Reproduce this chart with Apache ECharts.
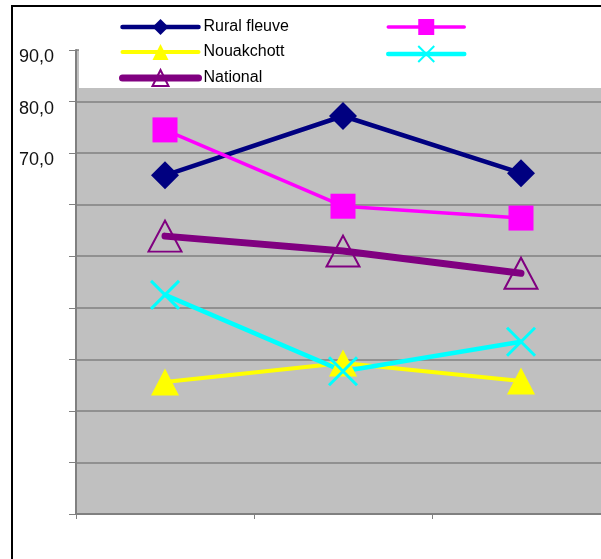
<!DOCTYPE html>
<html>
<head>
<meta charset="utf-8">
<script src="https://cdn.jsdelivr.net/npm/echarts@6/dist/echarts.min.js"></script>
<style>
html,body{margin:0;padding:0;background:#fff;}
#c{width:601px;height:559px;}
</style>
</head>
<body>
<div id="c"></div>
<script>
// Data
const categories = ['1', '2', '3'];
const ruralFleuve = [65.7, 77.2, 66.1];
const seriesMagenta = [74.5, 59.7, 57.4];
const nouakchott = [25.6, 29.3, 25.8];
const seriesCyan = [42.5, 27.7, 33.4];
const national = [53.9, 51.0, 46.7];

const chart = echarts.init(document.getElementById('c'), null, {renderer: 'canvas'});
const FONT = "'Liberation Sans', Arial, sans-serif";
const crossPath = 'path://M0,0L10,10M10,0L0,10';

const legendCommon = {
  orient: 'vertical', padding: 0,
  itemWidth: 76, itemHeight: 20, itemGap: 9,
  lineStyle: {width: 'inherit', cap: 'round'},
  textStyle: {fontFamily: FONT, fontSize: 16, color: '#000'},
  z: 10
};

chart.setOption({
  animation: false,
  backgroundColor: '#ffffff',
  grid: {
    left: 76, width: 534, top: 50, bottom: 45,
    outerBoundsMode: 'none',
    show: true, backgroundColor: '#c0c0c0', borderWidth: 0
  },
  legend: [
    Object.assign({}, legendCommon, {
      data: ['Rural fleuve', 'Nouakchott', 'National'],
      left: 119, top: 19
    }),
    Object.assign({}, legendCommon, {
      data: ['série 2', 'série 4'],
      left: 386, top: 17,
      formatter: function () { return ''; }
    })
  ],
  xAxis: {
    type: 'category', data: categories, boundaryGap: true,
    axisLine: {show: true, lineStyle: {color: '#808080', width: 2}},
    axisTick: {show: true, length: 5, lineStyle: {color: '#808080'}},
    axisLabel: {show: false},
    splitLine: {show: false}
  },
  yAxis: {
    type: 'value', min: 0, max: 90, interval: 10,
    axisLine: {show: true, lineStyle: {color: '#808080', width: 2}},
    axisTick: {show: true, length: 7, lineStyle: {color: '#808080'}},
    axisLabel: {
      margin: 22, fontFamily: FONT, fontSize: 18, color: '#111',
      verticalAlign: 'top', lineHeight: 14,
      formatter: function (v) { return v >= 70 ? v.toFixed(1).replace('.', ',') : ''; }
    },
    splitLine: {show: true, lineStyle: {color: '#808080', width: 1.5}}
  },
  graphic: [
    {type: 'rect', shape: {x: 79, y: 8, width: 540, height: 80}, style: {fill: '#ffffff'}, z: 5},
    {type: 'rect', shape: {x: 12, y: 6, width: 650, height: 650}, style: {fill: 'none', stroke: '#000', lineWidth: 2}, z: 20}
  ],
  series: [
    {
      name: 'Rural fleuve', type: 'line', data: ruralFleuve,
      symbol: 'diamond', symbolSize: 28,
      lineStyle: {color: '#000080', width: 4.5, cap: 'round'},
      itemStyle: {color: '#000080'}
    },
    {
      name: 'série 2', type: 'line', data: seriesMagenta,
      symbol: 'rect', symbolSize: 25,
      lineStyle: {color: '#ff00ff', width: 3.5, cap: 'round'},
      itemStyle: {color: '#ff00ff'}
    },
    {
      name: 'Nouakchott', type: 'line', data: nouakchott,
      symbol: 'triangle', symbolSize: [28, 27],
      lineStyle: {color: '#ffff00', width: 4, cap: 'round'},
      itemStyle: {color: '#ffff00'}
    },
    {
      name: 'série 4', type: 'line', data: seriesCyan,
      symbol: crossPath, symbolSize: 28,
      lineStyle: {color: '#00ffff', width: 4.5, cap: 'round'},
      itemStyle: {color: '#00ffff', borderColor: '#00ffff', borderWidth: 3}
    },
    {
      name: 'National', type: 'line', data: national,
      symbol: 'triangle', symbolSize: [33, 31],
      lineStyle: {color: '#800080', width: 7, cap: 'round'},
      itemStyle: {color: 'rgba(0,0,0,0)', borderColor: '#800080', borderWidth: 2}
    }
  ]
});
</script>
</body>
</html>
